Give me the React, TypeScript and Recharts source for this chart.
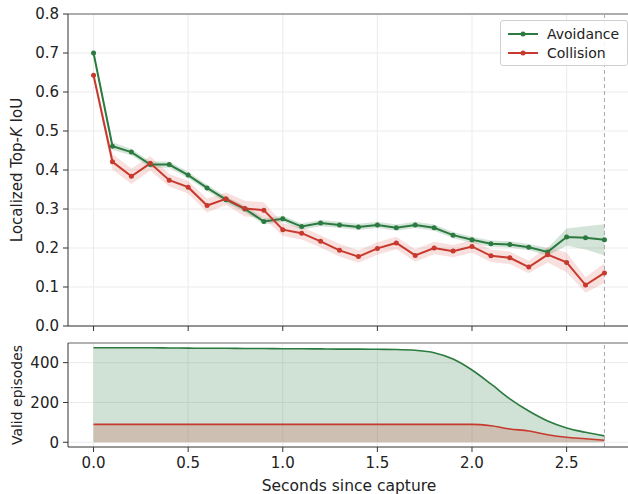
import React from 'react';
import { ComposedChart, Line, Area, XAxis, YAxis, CartesianGrid, ReferenceLine, Label } from 'recharts';

const seconds = [0.0, 0.1, 0.2, 0.3, 0.4, 0.5, 0.6, 0.7, 0.8, 0.9, 1.0, 1.1, 1.2, 1.3, 1.4, 1.5, 1.6, 1.7, 1.8, 1.9, 2.0, 2.1, 2.2, 2.3, 2.4, 2.5, 2.6, 2.7];

const avoidanceIoU = [0.70, 0.461, 0.446, 0.414, 0.414, 0.387, 0.354, 0.324, 0.300, 0.268, 0.275, 0.255, 0.264, 0.259, 0.254, 0.259, 0.252, 0.259, 0.252, 0.233, 0.221, 0.211, 0.209, 0.202, 0.190, 0.228, 0.226, 0.221];
const avoidanceErr = [0.006, 0.01, 0.008, 0.008, 0.008, 0.008, 0.008, 0.008, 0.008, 0.008, 0.008, 0.008, 0.008, 0.008, 0.008, 0.008, 0.008, 0.008, 0.008, 0.008, 0.008, 0.008, 0.008, 0.008, 0.01, 0.022, 0.03, 0.04];

const collisionIoU = [0.643, 0.421, 0.384, 0.417, 0.374, 0.356, 0.309, 0.326, 0.301, 0.297, 0.247, 0.238, 0.217, 0.194, 0.178, 0.199, 0.213, 0.181, 0.200, 0.192, 0.204, 0.180, 0.175, 0.151, 0.183, 0.163, 0.105, 0.136];
const collisionErr = [0.01, 0.02, 0.02, 0.018, 0.016, 0.016, 0.018, 0.016, 0.02, 0.02, 0.016, 0.016, 0.016, 0.016, 0.016, 0.016, 0.016, 0.016, 0.016, 0.016, 0.016, 0.016, 0.016, 0.016, 0.02, 0.025, 0.02, 0.025];

const avoidanceEpisodes = [475, 475, 475, 475, 474, 473, 472, 472, 471, 471, 470, 470, 469, 468, 468, 467, 466, 462, 450, 418, 363, 293, 218, 157, 107, 72, 50, 32];
const collisionEpisodes = [90, 90, 90, 90, 90, 90, 90, 90, 90, 90, 90, 90, 90, 90, 90, 90, 90, 90, 90, 90, 90, 83, 67, 57, 38, 25, 18, 10];

const xTicks = [0, 0.5, 1.0, 1.5, 2.0, 2.5];
const iouTicks = [0, 0.1, 0.2, 0.3, 0.4, 0.5, 0.6, 0.7, 0.8];
const episodeTicks = [0, 200, 400];

const GREEN = '#2b7a3f';
const RED = '#c8392d';
const FONT = '"DejaVu Sans", sans-serif';
const X_DOMAIN: [number, number] = [-0.135, 2.835];
const EP_DOMAIN: [number, number] = [-23.75, 498.75];

const iouData = seconds.map((s, i) => ({
  s,
  avoid: avoidanceIoU[i],
  collide: collisionIoU[i],
  avoidBand: [avoidanceIoU[i] - avoidanceErr[i], avoidanceIoU[i] + avoidanceErr[i]],
  collideBand: [collisionIoU[i] - collisionErr[i], collisionIoU[i] + collisionErr[i]],
}));

const episodeData = seconds.map((s, i) => ({
  s,
  avoid: avoidanceEpisodes[i],
  collide: collisionEpisodes[i],
}));

const tickStyle = { fill: '#222', fontSize: 15, fontFamily: FONT };

const LegendBox = () => (
  <div
    style={{
      position: 'absolute',
      left: 500,
      top: 20,
      border: '1px solid #d0d0d0',
      borderRadius: 3,
      background: 'rgba(255,255,255,0.85)',
      padding: '3px 8px 3px 6px',
      fontFamily: FONT,
      fontSize: 14,
      color: '#222',
    }}
  >
    {[
      { name: 'Avoidance', color: GREEN },
      { name: 'Collision', color: RED },
    ].map((it) => (
      <div key={it.name} style={{ display: 'flex', alignItems: 'center', height: 19 }}>
        <svg width={32} height={10} style={{ marginRight: 8 }}>
          <line x1={1} y1={5} x2={31} y2={5} stroke={it.color} strokeWidth={2} />
          <circle cx={16} cy={5} r={2.5} fill={it.color} />
        </svg>
        <span>{it.name}</span>
      </div>
    ))}
  </div>
);

const YLabelIoU = (props: any) => {
  const { viewBox } = props;
  const cy = viewBox.y + viewBox.height / 2;
  return (
    <text
      x={17}
      y={cy}
      transform={`rotate(-90, 17, ${cy})`}
      textAnchor="middle"
      dominantBaseline="central"
      fontFamily={FONT}
      fontSize={15}
      fill="#222"
    >
      Localized Top-<tspan fontStyle="italic">K</tspan> IoU
    </text>
  );
};

const YLabelEpisodes = (props: any) => {
  const { viewBox } = props;
  const cy = viewBox.y + viewBox.height / 2;
  return (
    <text
      x={17}
      y={cy}
      transform={`rotate(-90, 17, ${cy})`}
      textAnchor="middle"
      dominantBaseline="central"
      fontFamily={FONT}
      fontSize={14}
      fill="#222"
    >
      Valid episodes
    </text>
  );
};

const App = () => {
  return (
    <div style={{ position: 'absolute', left: 0, top: 0, width: 628, height: 494, overflow: 'hidden', background: '#fff' }}>
      <div style={{ position: 'absolute', left: 0, top: 0 }}>
        <ComposedChart width={640} height={340} data={iouData} margin={{ top: 14, right: 10, bottom: 0, left: 0 }}>
          <CartesianGrid stroke="#ebebeb" strokeWidth={1} horizontalValues={iouTicks} verticalValues={xTicks} />
          <XAxis
            dataKey="s"
            type="number"
            domain={X_DOMAIN}
            ticks={xTicks}
            height={14}
            tickFormatter={() => ''}
            tickSize={5}
            stroke="#333"
            allowDataOverflow
          />
          <YAxis
            type="number"
            domain={[0, 0.8]}
            ticks={iouTicks}
            width={68}
            tickSize={5}
            tickMargin={4}
            tick={tickStyle}
            tickFormatter={(v: number) => v.toFixed(1)}
            stroke="#333"
            allowDataOverflow
          >
            <Label content={YLabelIoU} />
          </YAxis>
          <ReferenceLine y={0.8} stroke="#666" strokeWidth={1.2} />
          <ReferenceLine x={2.7} stroke="#aaaaaa" strokeDasharray="4 3" strokeWidth={1} />
          <Area dataKey="avoidBand" type="linear" stroke="none" fill={GREEN} fillOpacity={0.2} isAnimationActive={false} />
          <Area dataKey="collideBand" type="linear" stroke="none" fill="#d9534f" fillOpacity={0.18} isAnimationActive={false} />
          <Line
            dataKey="avoid"
            type="linear"
            stroke={GREEN}
            strokeWidth={2}
            dot={{ r: 2.5, fill: GREEN, stroke: GREEN, strokeWidth: 0 }}
            isAnimationActive={false}
          />
          <Line
            dataKey="collide"
            type="linear"
            stroke={RED}
            strokeWidth={2}
            dot={{ r: 2.5, fill: RED, stroke: RED, strokeWidth: 0 }}
            isAnimationActive={false}
          />
        </ComposedChart>
      </div>
      <LegendBox />
      <div style={{ position: 'absolute', left: 0, top: 330 }}>
        <ComposedChart width={640} height={164} data={episodeData} margin={{ top: 13, right: 10, bottom: 0, left: 0 }}>
          <CartesianGrid stroke="#ebebeb" strokeWidth={1} horizontalValues={episodeTicks} verticalValues={xTicks} />
          <XAxis
            dataKey="s"
            type="number"
            domain={X_DOMAIN}
            ticks={xTicks}
            height={47}
            tickSize={5}
            tickMargin={5}
            tick={tickStyle}
            tickFormatter={(v: number) => v.toFixed(1)}
            stroke="#333"
            allowDataOverflow
          >
            <Label value="Seconds since capture" position="insideBottom" offset={3} style={{ fontFamily: FONT, fontSize: 15.5, fill: '#222' }} />
          </XAxis>
          <YAxis
            type="number"
            domain={EP_DOMAIN}
            ticks={episodeTicks}
            width={68}
            tickSize={5}
            tickMargin={4}
            tick={tickStyle}
            stroke="#333"
            allowDataOverflow
          >
            <Label content={YLabelEpisodes} />
          </YAxis>
          <ReferenceLine y={EP_DOMAIN[1]} stroke="#666" strokeWidth={1.2} />
          <ReferenceLine x={2.7} stroke="#aaaaaa" strokeDasharray="4 3" strokeWidth={1} />
          <Area
            dataKey="avoid"
            type="monotone"
            baseValue={0}
            stroke={GREEN}
            strokeWidth={1.6}
            fill={GREEN}
            fillOpacity={0.22}
            isAnimationActive={false}
          />
          <Area
            dataKey="collide"
            type="monotone"
            baseValue={0}
            stroke={RED}
            strokeWidth={1.6}
            fill={RED}
            fillOpacity={0.2}
            isAnimationActive={false}
          />
        </ComposedChart>
      </div>
    </div>
  );
};

export default App;
